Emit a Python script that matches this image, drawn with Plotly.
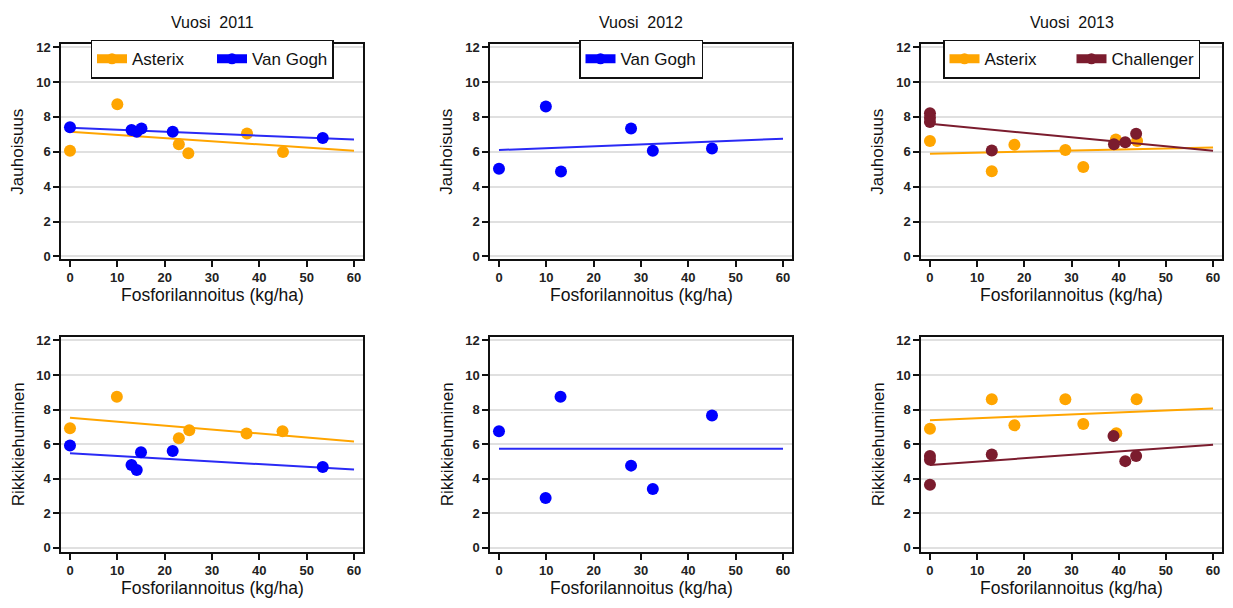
import plotly.graph_objects as go

# page has an 8px body margin; figure coordinates = page coordinates - OFF
OFF = 8
W, H = 1225, 600

# ---------------- data ----------------
years = ["2011", "2012", "2013"]
tick_x = [0, 10, 20, 30, 40, 50, 60]
tick_y = [0, 2, 4, 6, 8, 10, 12]
trend_x = [0, 60]

# 2011 Jauhoisuus
j11_ast_x = [0, 10, 23, 25, 37.4, 45]
j11_ast_y = [6.05, 8.72, 6.43, 5.92, 7.05, 5.98]
j11_vg_x = [0, 13, 14.1, 15.1, 21.7, 53.4]
j11_vg_y = [7.4, 7.24, 7.15, 7.33, 7.15, 6.79]
j11_ast_trend = [7.15, 6.05]
j11_vg_trend = [7.37, 6.7]

# 2012 Jauhoisuus
j12_vg_x = [0, 9.9, 13.1, 27.9, 32.5, 45]
j12_vg_y = [5.02, 8.6, 4.87, 7.33, 6.06, 6.19]
j12_vg_trend = [6.1, 6.75]

# 2013 Jauhoisuus
j13_ast_x = [0, 13.1, 17.9, 28.7, 32.5, 39.4, 43.9]
j13_ast_y = [6.62, 4.88, 6.4, 6.1, 5.13, 6.7, 6.62]
j13_ch_x = [0, 0, 0, 13.1, 39, 41.4, 43.7]
j13_ch_y = [8.2, 7.95, 7.7, 6.07, 6.43, 6.55, 7.03]
j13_ast_trend = [5.88, 6.25]
j13_ch_trend = [7.6, 6.05]

# 2011 Rikkikiehuminen
r11_ast_x = [0, 9.9, 23, 25.2, 37.3, 44.9]
r11_ast_y = [6.92, 8.74, 6.35, 6.8, 6.62, 6.75]
r11_vg_x = [0, 13, 14.1, 15, 21.7, 53.4]
r11_vg_y = [5.93, 4.8, 4.51, 5.54, 5.61, 4.68]
r11_ast_trend = [7.53, 6.16]
r11_vg_trend = [5.48, 4.53]

# 2012 Rikkikiehuminen
r12_vg_x = [0, 9.85, 13, 27.9, 32.5, 45]
r12_vg_y = [6.75, 2.88, 8.74, 4.76, 3.41, 7.66]
r12_vg_trend = [5.73, 5.73]

# 2013 Rikkikiehuminen
r13_ast_x = [0, 13.1, 17.9, 28.7, 32.5, 39.5, 43.8]
r13_ast_y = [6.9, 8.6, 7.09, 8.6, 7.17, 6.64, 8.6]
r13_ch_x = [0, 0, 0, 13.1, 38.9, 41.4, 43.7]
r13_ch_y = [5.31, 5.1, 3.66, 5.4, 6.48, 5.02, 5.31]
r13_ast_trend = [7.39, 8.06]
r13_ch_trend = [4.8, 5.97]

ORANGE = "#FFA500"
BLUE = "#0000FF"
MAROON = "#7B1C2E"
LINE_BLUE = "#2A2AF5"
FONT = "Liberation Sans, Arial, sans-serif"

# panel page-pixel boxes (left, right, top, bottom)
boxes = [
    (61, 363, 40, 258), (490, 792, 40, 258), (921, 1222, 40, 258),
    (61, 363, 337, 556), (490, 792, 337, 556), (921, 1222, 337, 556),
]


def px(p):
    return (p - OFF) / W


def py(p):
    return (H - (p - OFF)) / H


fig = go.Figure()

panels = [
    (1, [(j11_ast_x, j11_ast_y, j11_ast_trend, ORANGE, ORANGE),
         (j11_vg_x, j11_vg_y, j11_vg_trend, BLUE, LINE_BLUE)]),
    (2, [(j12_vg_x, j12_vg_y, j12_vg_trend, BLUE, LINE_BLUE)]),
    (3, [(j13_ast_x, j13_ast_y, j13_ast_trend, ORANGE, ORANGE),
         (j13_ch_x, j13_ch_y, j13_ch_trend, MAROON, MAROON)]),
    (4, [(r11_ast_x, r11_ast_y, r11_ast_trend, ORANGE, ORANGE),
         (r11_vg_x, r11_vg_y, r11_vg_trend, BLUE, LINE_BLUE)]),
    (5, [(r12_vg_x, r12_vg_y, r12_vg_trend, BLUE, LINE_BLUE)]),
    (6, [(r13_ast_x, r13_ast_y, r13_ast_trend, ORANGE, ORANGE),
         (r13_ch_x, r13_ch_y, r13_ch_trend, MAROON, MAROON)]),
]

for idx, series in panels:
    xa = "x" if idx == 1 else f"x{idx}"
    ya = "y" if idx == 1 else f"y{idx}"
    for sx, sy, tr, col, lcol in series:
        fig.add_trace(go.Scatter(x=trend_x, y=tr, mode="lines",
                                 line=dict(color=lcol, width=2),
                                 xaxis=xa, yaxis=ya, showlegend=False,
                                 hoverinfo="skip"))
        fig.add_trace(go.Scatter(x=sx, y=sy, mode="markers",
                                 marker=dict(color=col, size=12, symbol="circle"),
                                 xaxis=xa, yaxis=ya, showlegend=False))

# legend entries (top row)
legend_items = [
    ("legend", "Asterix", ORANGE),
    ("legend", "Van Gogh", BLUE),
    ("legend2", "Van Gogh", BLUE),
    ("legend3", "Asterix", ORANGE),
    ("legend3", "Challenger", MAROON),
]
for lg, name, col in legend_items:
    fig.add_trace(go.Scatter(x=[None], y=[None], mode="lines+markers", name=name,
                             line=dict(color=col, width=9),
                             marker=dict(color=col, size=11),
                             legend=lg, showlegend=True))

layout = dict(
    width=W, height=H,
    margin=dict(l=0, r=0, t=0, b=0),
    paper_bgcolor="white", plot_bgcolor="white",
    font=dict(family=FONT, color="#111", size=14),
    annotations=[],
)

for i, (l, r, t, b) in enumerate(boxes, start=1):
    xk = "xaxis" if i == 1 else f"xaxis{i}"
    yk = "yaxis" if i == 1 else f"yaxis{i}"
    ya = "y" if i == 1 else f"y{i}"
    xa = "x" if i == 1 else f"x{i}"
    top_row = i <= 3
    yr = [-0.14, 12.15] if top_row else [-0.23, 12.23]
    layout[xk] = dict(
        domain=[px(l), px(r)], anchor=ya, range=[-1.9, 61.9],
        tickvals=tick_x, ticktext=[str(v) for v in tick_x],
        ticks="outside", ticklen=6, tickwidth=1.5, tickcolor="#111",
        showline=True, linecolor="#111", linewidth=1.5, mirror=True,
        showgrid=False, zeroline=False,
        tickfont=dict(size=13, family=FONT, color="#222", weight="bold"),
    )
    layout[yk] = dict(
        domain=[py(b), py(t)], anchor=xa, range=yr,
        tickvals=tick_y, ticktext=[str(v) for v in tick_y],
        ticks="outside", ticklen=6, tickwidth=1.5, tickcolor="#111",
        showline=True, linecolor="#111", linewidth=1.5, mirror=True,
        showgrid=True, gridcolor="#E0E0E0", gridwidth=1.5, zeroline=False,
        tickfont=dict(size=13, family=FONT, color="#222", weight="bold"),
    )
    cx = (l + r) / 2
    cy = (t + b) / 2
    layout["annotations"].append(dict(
        text="Fosforilannoitus (kg/ha)", xref="paper", yref="paper",
        x=px(cx), y=py(b + 37), xanchor="center", yanchor="middle",
        showarrow=False, font=dict(size=17.5, family=FONT, color="#111")))
    layout["annotations"].append(dict(
        text="Jauhoisuus" if top_row else "Rikkikiehuminen",
        xref="paper", yref="paper", x=px(l - 43), y=py(cy),
        xanchor="center", yanchor="middle", textangle=-90,
        showarrow=False, font=dict(size=17, family=FONT, color="#111")))
    if top_row:
        layout["annotations"].append(dict(
            text="Vuosi  " + years[i - 1], xref="paper", yref="paper",
            x=px(cx), y=py(18), xanchor="center", yanchor="middle",
            showarrow=False, font=dict(size=16, family=FONT, color="#111")))

leg_common = dict(orientation="h", xanchor="center", yanchor="middle",
                  bgcolor="white", bordercolor="#111", borderwidth=1.5,
                  font=dict(size=17, family=FONT, color="#111"),
                  entrywidthmode="pixels", itemclick=False, itemdoubleclick=False)
for k, bi, ew in [("legend", 0, 75), ("legend2", 1, 0), ("legend3", 2, 82)]:
    l, r, t, b = boxes[bi]
    layout[k] = dict(leg_common, x=px((l + r) / 2), y=py(55), entrywidth=ew)

fig.update_layout(**layout)
fig.write_html("out.html")
